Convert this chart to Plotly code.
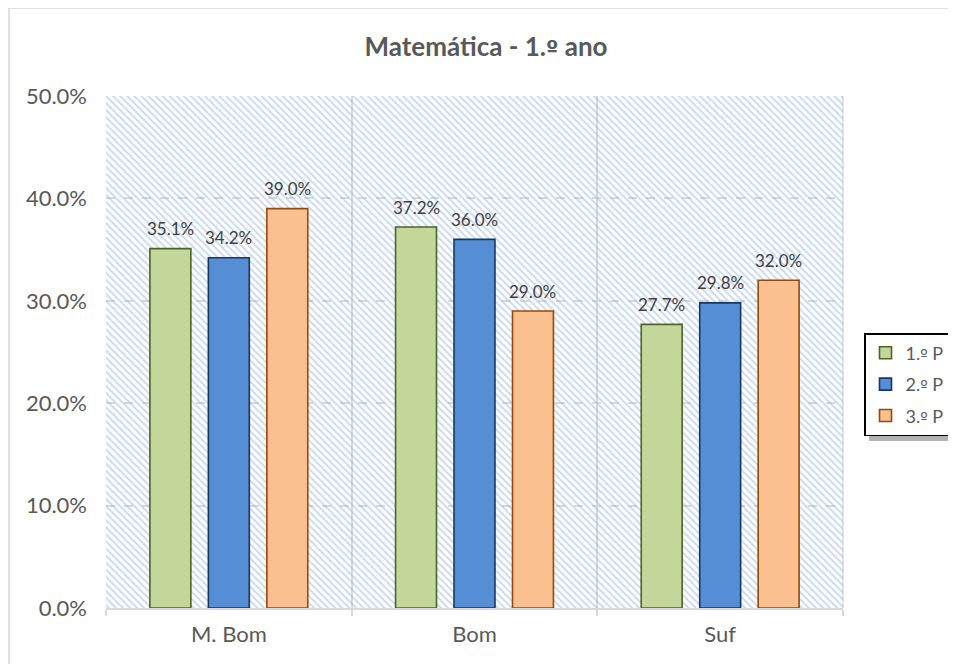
import plotly.graph_objects as go

categories = ["M. Bom", "Bom", "Suf"]
series_names = ["1.º P", "2.º P", "3.º P"]
p1_values = [35.1, 37.2, 27.7]
p2_values = [34.2, 36.0, 29.8]
p3_values = [39.0, 29.0, 32.0]
y_ticks = [0, 10, 20, 30, 40, 50]
y_tick_labels = ["0.0%", "10.0%", "20.0%", "30.0%", "40.0%", "50.0%"]
title_text = "Matemática - 1.º ano"

fills = ["#c4d79b", "#558ed5", "#fac090"]
edges = ["#4f6228", "#17375e", "#984807"]
FONT = "Lato"
ORD_FONT = "DejaVu Sans"

# the page has an 8px body margin; work in page coordinates
OFF = 8
PL, PR, PT, PB = 106, 843, 96, 608   # plot area in page pixels
W, H = 956, 656
BARGAP, GROUPGAP = 0.286, 0.3


def px(x):
    return (x - PL) / (PR - PL)


def py(y):
    return (PB - y) / (PB - PT)


def ordinal(s, size):
    # underlined masculine ordinal glyph, as in the original font
    return s.replace("º", f"<span style='font-family:\"{ORD_FONT}\";font-size:{size}px'>º</span>")


fig = go.Figure()

# hatched plot-area background on hidden base axes
fig.add_trace(go.Scatter(
    x=[0, 1, 1, 0, 0], y=[0, 0, 1, 1, 0], mode="lines", fill="toself",
    line=dict(width=0), fillcolor="rgba(0,0,0,0)",
    fillpattern=dict(shape="\\", size=5, solidity=0.38,
                     fgcolor="#94b3df", bgcolor="rgba(0,0,0,0)"),
    hoverinfo="skip", showlegend=False, xaxis="x", yaxis="y"))

series = [p1_values, p2_values, p3_values]
for name, vals, fc, ec in zip(series_names, series, fills, edges):
    fig.add_trace(go.Bar(
        x=categories, y=vals, name=ordinal(name, 16), legendgroup=name,
        marker=dict(color=fc, line=dict(color=ec, width=1.6)),
        xaxis="x2", yaxis="y2"))

# data labels above the bars (slot offset computed from the bar layout)
cat_px = (PR - PL) / len(categories)
slot_px = cat_px * (1 - BARGAP) / len(series)
annotations = []
for i, vals in enumerate(series):
    for c, v in zip(categories, vals):
        annotations.append(dict(
            x=c, y=v, xref="x2", yref="y2", text=f"{v:.1f}%", showarrow=False,
            xshift=(i - (len(series) - 1) / 2) * slot_px, yshift=20,
            xanchor="center", yanchor="middle",
            font=dict(family=FONT, size=17, color="#404040")))

fig.update_layout(
    width=W, height=H,
    margin=dict(l=PL - OFF, r=W - (PR - OFF), t=PT - OFF, b=H - (PB - OFF),
                autoexpand=False),
    paper_bgcolor="white", plot_bgcolor="white",
    barmode="group", bargap=BARGAP, bargroupgap=GROUPGAP,
    title=dict(text=f"<b>{ordinal(title_text, 22)}</b>", x=0.5, xanchor="center",
               y=1 - (47 - OFF) / H, yanchor="middle",
               font=dict(family=FONT, size=26, color="#595959")),
    xaxis=dict(range=[0, 1], visible=False, fixedrange=True),
    yaxis=dict(range=[0, 1], visible=False, fixedrange=True),
    xaxis2=dict(overlaying="x", anchor="y2", type="category",
                tickson="boundaries", showgrid=True, gridcolor="#d9d9d9", gridwidth=1.5,
                showline=True, linecolor="#d9d9d9", linewidth=1.5,
                ticks="outside", ticklen=6, tickcolor="#d9d9d9", tickwidth=1.5,
                ticklabelstandoff=6,
                tickfont=dict(family=FONT, size=22, color="#595959"),
                range=[-0.5, 2.5]),
    yaxis2=dict(overlaying="y", anchor="x2", side="left", range=[0, 50],
                tickvals=y_ticks, ticktext=y_tick_labels,
                showgrid=True, gridcolor="#d9d9d9", gridwidth=1.5, griddash="dash",
                zeroline=False, showline=False, ticks="", ticklabelstandoff=18,
                tickfont=dict(family=FONT, size=22, color="#595959")),
    legend=dict(x=px(864), xanchor="left", y=py(333), yanchor="top",
                bordercolor="black", borderwidth=1.5, bgcolor="white",
                font=dict(family=FONT, size=18, color="#595959"),
                traceorder="grouped", tracegroupgap=5, itemwidth=30),
    annotations=annotations,
    shapes=[
        # chart border
        dict(type="rect", xref="paper", yref="paper",
             x0=px(9), x1=px(990), y0=py(700), y1=py(8),
             line=dict(color="#d9d9d9", width=1.5), fillcolor="rgba(0,0,0,0)", layer="below"),
        # right edge of plot area
        dict(type="line", xref="paper", yref="paper", x0=1, x1=1, y0=0, y1=1,
             line=dict(color="#d9d9d9", width=1.5), layer="below"),
        # legend shadow
        dict(type="rect", xref="paper", yref="paper",
             x0=px(869), x1=px(953), y0=py(441), y1=py(338),
             line=dict(width=0), fillcolor="rgba(0,0,0,0.3)", layer="above"),
    ],
)

fig.write_html("out.html")
